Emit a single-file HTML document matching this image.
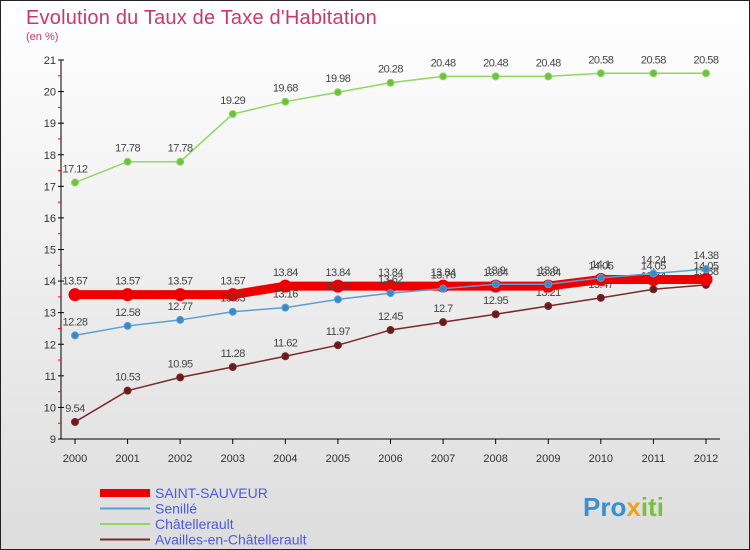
<!DOCTYPE html>
<html><head><meta charset="utf-8"><style>
body{margin:0;}
#c{width:750px;height:550px;position:relative;overflow:hidden;font-family:"Liberation Sans",sans-serif;}
</style></head><body>
<div id="c">
<svg id="s" width="750" height="550" xmlns="http://www.w3.org/2000/svg">
<defs><linearGradient id="bg" x1="0" y1="0" x2="0" y2="1"><stop offset="0" stop-color="#ffffff"/><stop offset="1" stop-color="#dddddd"/></linearGradient></defs>
<rect x="0.5" y="0.5" width="749" height="549" fill="url(#bg)" stroke="#222"/>
<text x="26" y="24" font-size="20" fill="#c8386a" letter-spacing="0.2">Evolution du Taux de Taxe d'Habitation</text>
<text x="26" y="40" font-size="11" fill="#c8386a">(en %)</text>
<g id="axes"></g><g id="series"></g><g id="legend"></g>
<text x="583" y="516" font-size="26" font-weight="bold" fill="#3a8fd0">Pro<tspan fill="#f0a020">x</tspan><tspan fill="#7ac040">iti</tspan></text>
</svg></div>
<script>
const years=[2000,2001,2002,2003,2004,2005,2006,2007,2008,2009,2010,2011,2012];
const yTicks=[9,10,11,12,13,14,15,16,17,18,19,20,21];
const saintSauveur=[13.57,13.57,13.57,13.57,13.84,13.84,13.84,13.84,13.84,13.84,14.05,14.05,14.05];
const senille=[12.28,12.58,12.77,13.03,13.16,13.42,13.62,13.76,13.9,13.9,14.1,14.24,14.38];
const chatellerault=[17.12,17.78,17.78,19.29,19.68,19.98,20.28,20.48,20.48,20.48,20.58,20.58,20.58];
const availles=[9.54,10.53,10.95,11.28,11.62,11.97,12.45,12.7,12.95,13.21,13.47,13.74,13.88];
const NS="http://www.w3.org/2000/svg";
const X=i=>75+i*(706-75)/(years.length-1);
const Y=v=>439-(v-9)*(439-60)/12;
function mk(t,a,p){const e=document.createElementNS(NS,t);for(const k in a)e.setAttribute(k,a[k]);p.appendChild(e);return e;}
const ax=document.getElementById('axes');
const yl=mk('line',{x1:61,y1:60,x2:61,y2:439,stroke:'#000'},ax);


const xl=mk('line',{x1:61,y1:439,x2:720,y2:439,stroke:'#000'},ax);


yTicks.forEach(v=>{mk('line',{x1:58,y1:Y(v),x2:64,y2:Y(v),stroke:'#000'},ax);
 if(v<21)mk('line',{x1:58,y1:Y(v+0.5),x2:61,y2:Y(v+0.5),stroke:'#f00'},ax);
 const t=mk('text',{x:56,y:Y(v)+4,'font-size':11,'text-anchor':'end',fill:'#333'},ax);t.textContent=v;
 
 });
years.forEach((y,i)=>{mk('line',{x1:X(i),y1:439,x2:X(i),y2:444,stroke:'#000'},ax);
 const t=mk('text',{x:X(i),y:462,'font-size':11,'text-anchor':'middle',fill:'#333'},ax);t.textContent=y;
 
 });
const sg=document.getElementById('series');
function draw(vals,col,dot,w,r,name){
 const g=mk('g',{},sg);
 
 
 mk('polyline',{points:vals.map((v,i)=>X(i)+','+Y(v)).join(' '),fill:'none',stroke:col,'stroke-width':w},g);
 vals.forEach((v,i)=>{const c=mk('circle',{cx:X(i),cy:Y(v),r:r,fill:dot,stroke:col,'stroke-width':1},g);
  
  
  const t=mk('text',{x:X(i),y:Y(v)-10,'font-size':11,'text-anchor':'middle',fill:'#444','letter-spacing':'-0.5'},g);t.textContent=v;});
}
draw(chatellerault,'#8fd860','#70c040',1.5,3.5,'series-chatellerault');
draw(availles,'#7a2a2a','#6a1a1a',1.5,3.5,'series-availles');
draw(saintSauveur,'#ee0000','#ee0000',9,6,'series-saint-sauveur');
draw(senille,'#5a9fd0','#3a88cc',1.5,3.5,'series-senille');
const lg=document.getElementById('legend');
const items=[['SAINT-SAUVEUR','#ee0000',8],['Senillé','#5a9fd0',2],['Châtellerault','#8fd860',2],['Availles-en-Châtellerault','#7a2a2a',2]];
items.forEach((it,k)=>{const y=493+k*15.5;
 const g=mk('g',{},lg);
 
 
 mk('line',{x1:100,y1:y,x2:150,y2:y,stroke:it[1],'stroke-width':it[2]},g);
 const t=mk('text',{x:155,y:y+5,'font-size':14,fill:'#4a5ae0'},g);t.textContent=it[0];});
</script>
</body></html>
